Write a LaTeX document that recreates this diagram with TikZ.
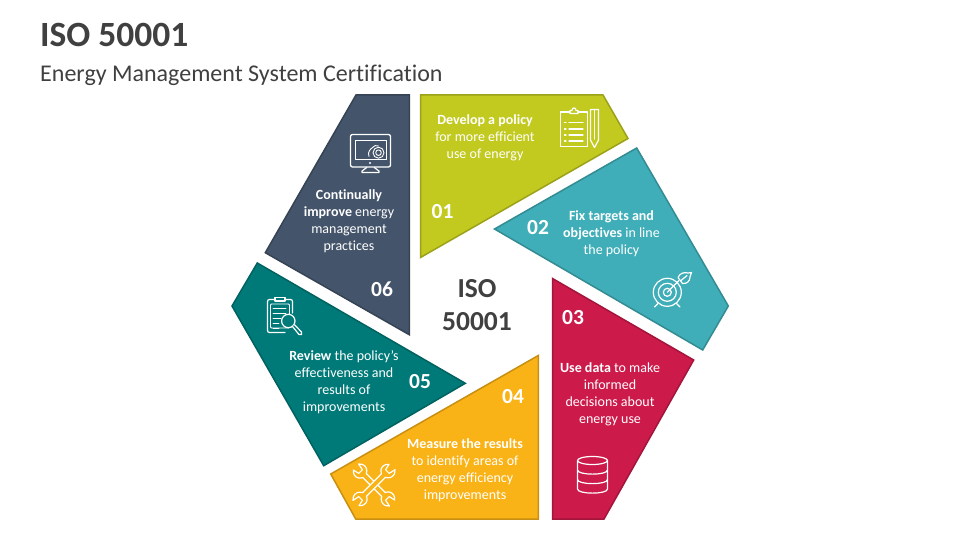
\documentclass[tikz,border=0pt]{standalone}
\usepackage{fontspec}
\setmainfont[Ligatures=NoCommon]{Carlito}
\definecolor{cA}{HTML}{C2CA20}\definecolor{bA}{HTML}{9BA21A}
\definecolor{cB}{HTML}{40AEB8}\definecolor{bB}{HTML}{338B93}
\definecolor{cC}{HTML}{CC1A4A}\definecolor{bC}{HTML}{A3153B}
\definecolor{cD}{HTML}{FAB317}\definecolor{bD}{HTML}{C88F12}
\definecolor{cE}{HTML}{007A78}\definecolor{bE}{HTML}{006260}
\definecolor{cF}{HTML}{44546A}\definecolor{bF}{HTML}{364355}
\definecolor{ink}{HTML}{404040}
\tikzset{
  seg/.style={line width=1.5pt,line join=miter},
  txt/.style={text=white,align=center,inner sep=0pt,font=\fontsize{14}{17}\selectfont},
  num/.style={text=white,inner sep=0pt,font=\fontsize{21.5}{24}\selectfont\bfseries},
  icon/.style={draw=white,line width=1.2pt,line join=round,line cap=round},
  titletxt/.style={text=ink,inner sep=0pt,anchor=base west}
}
\newcommand{\wrenchshape}{%
  (2.6,-13.5) -- (2.6,13.5) arc[start angle=-68,end angle=55,radius=7pt]
  -- (2.6,19) -- (-2.6,19) -- (-4,25.2)
  arc[start angle=125,end angle=248,radius=7pt] -- (-2.6,-13.5)
  arc[start angle=112,end angle=235,radius=7pt]
  -- (-2.6,-19) -- (2.6,-19) -- (4,-25.2)
  arc[start angle=305,end angle=428,radius=7pt] -- cycle}
\begin{document}
\begin{tikzpicture}[x=1pt,y=-1pt]
\useasboundingbox (0,0) rectangle (960,540);
\fill[white] (0,0) rectangle (960,540);
% titles
\node[titletxt,font=\fontsize{35.5}{38}\selectfont\bfseries] (title) at (40,47) {ISO 50001};
\node[titletxt,font=\fontsize{24}{28}\selectfont] (subtitle) at (40,82) {Energy Management System Certification};
% segments
\draw[seg,fill=cA,draw=bA] (420.5,95) -- (603,95) -- (628,138.5) -- (420.5,257.5) -- cycle;
\draw[seg,fill=cB,draw=bB] (636.7,148) -- (728.3,306) -- (702.7,350) -- (494.5,229) -- cycle;
\draw[seg,fill=cC,draw=bC] (552.5,278.5) -- (693.7,360) -- (604,519) -- (552.5,519) -- cycle;
\draw[seg,fill=cD,draw=bD] (538.3,355.5) -- (538.3,519) -- (355.7,519) -- (330.7,474) -- cycle;
\draw[seg,fill=cE,draw=bE] (257.3,263) -- (465.3,383.3) -- (323.7,465.7) -- (232,306) -- cycle;
\draw[seg,fill=cF,draw=bF] (356,95) -- (409.3,95) -- (409.3,334.7) -- (265.3,252.7) -- cycle;
% centre
\node[text=ink,align=center,inner sep=0pt,font=\fontsize{27.5}{33}\selectfont\bfseries] (centre) at (477,305) {ISO\\50001};
% numbers
\node[num] (n1) at (442.5,212) {01};
\node[num] (n2) at (538,228) {02};
\node[num] (n3) at (573,318) {03};
\node[num] (n4) at (513,397) {04};
\node[num] (n5) at (420,382) {05};
\node[num] (n6) at (382,289) {06};
% texts
\node[txt] (t1) at (485,137.5) {\textbf{Develop a policy}\\for more efficient\\use of energy};
\node[txt] (t2) at (611.5,233.5) {\textbf{Fix targets and}\\\textbf{objectives} in line\\the policy};
\node[txt] (t3) at (610,394) {\textbf{Use data} to make\\informed\\decisions about\\energy use};
\node[txt] (t4) at (465,470) {\textbf{Measure the results}\\to identify areas of\\energy efficiency\\improvements};
\node[txt] (t5) at (344,382) {\textbf{Review} the policy’s\\effectiveness and\\results of\\improvements};
\node[txt] (t6) at (349,221) {\textbf{Continually}\\\textbf{improve} energy\\management\\practices};
% icon 01: clipboard and pen
\draw[icon] (570,112) -- (560.5,112) -- (560.5,146.5) -- (587.5,146.5) -- (587.5,112) -- (578,112);
\draw[icon] (570,113.5) -- (570,110.5) -- (572,110.5) .. controls (572,107) and (576,107) .. (576,110.5) -- (578,110.5) -- (578,113.5) -- cycle;
\foreach \yy/\xx in {122.5/583,129/583,135/583,141/583}{
  \draw[icon] (564.5,\yy) -- (566,\yy);
  \draw[icon] (569,\yy) -- (\xx,\yy);
}
\draw[icon] (590.5,109.5) -- (598.5,109.5) -- (598.5,140) -- (594.5,147.5) -- (590.5,140) -- cycle;
\draw[icon] (594.5,110) -- (594.5,139);
% icon 02: target
\draw[icon] (667.3,292.3) circle[radius=14pt];
\draw[icon] (667.3,292.3) circle[radius=9pt];
\draw[icon] (667.3,292.3) circle[radius=4pt];
\draw[icon] (658,303.5) -- (654.5,307);
\draw[icon] (676.5,303.5) -- (680,307);
\draw[icon] (667.3,292.3) -- (679,280.5);
\draw[icon] (678,277.5) .. controls (680,273) and (684,272) .. (688,273) -- (691.5,272.5) -- (690,277) .. controls (690,281) and (687,284) .. (682.5,283.5) -- cycle;
\draw[icon] (681,280.5) -- (687,275.5);
% icon 03: database
\draw[icon] (592.5,460.5) ellipse[x radius=15pt,y radius=4pt];
\draw[icon] (577.5,460.5) -- (577.5,489) .. controls (577.5,494.5) and (607.5,494.5) .. (607.5,489) -- (607.5,460.5);
\draw[icon] (577.5,470) .. controls (577.5,475.5) and (607.5,475.5) .. (607.5,470);
\draw[icon] (577.5,479.5) .. controls (577.5,485) and (607.5,485) .. (607.5,479.5);
% icon 04: crossed wrenches
\begin{scope}[shift={(374,485)},rotate=45,y=1pt]
  \draw[icon,fill=cD] \wrenchshape;
\end{scope}
\begin{scope}[shift={(374,485)},rotate=-45,y=1pt]
  \draw[icon,fill=cD] \wrenchshape;
\end{scope}
% icon 05: clipboard and magnifier
\draw[icon,rounded corners=2pt] (275,299.5) -- (267.5,299.5) -- (267.5,332.5) -- (285,332.5);
\draw[icon,rounded corners=2pt] (285,299.5) -- (292.5,299.5) -- (292.5,313);
\draw[icon] (275,297.5) rectangle (285,301);
\draw[icon,rounded corners=1pt,line width=.8pt] (270.5,304) rectangle (289.5,328);
\foreach \yy/\xx in {308/286,313/286,318/281,323/279,328/279}{
  \draw[icon,line width=.8pt] (273,\yy) -- (\xx,\yy);
}
\draw[icon,fill=cE] (288.3,321) circle[radius=6.7pt];
\draw[icon,fill=cE] (292.5,326.5) -- (299,334.5) .. controls (301,336) and (303,334) .. (301.5,332) -- (294.5,324.7);
% icon 06: monitor with gear
\draw[icon,rounded corners=2pt,line width=1.3pt] (350.5,134.5) rectangle (390.5,167);
\draw[icon,line width=.8pt] (355,140) rectangle (386,159);
\fill[white] (370,163) circle[radius=1.2pt];
\draw[icon] (366.7,167.5) -- (362,171) -- (362,172.5) -- (379,172.5) -- (379,171) -- (374.3,167.5);
\draw[icon,line width=.9pt] (378.5,152.7) circle[radius=5.5pt];
\draw[icon,line width=.9pt] (378.5,152.7) circle[radius=2.8pt];
\draw[icon,line width=.9pt] (369,156.5) .. controls (367,154) and (369.5,152.5) .. (369.5,150.5) .. controls (370,148.5) and (372,149) .. (372.5,147.5) .. controls (373.5,145) and (376.5,145.5) .. (378.5,146);
\end{tikzpicture}
\end{document}
